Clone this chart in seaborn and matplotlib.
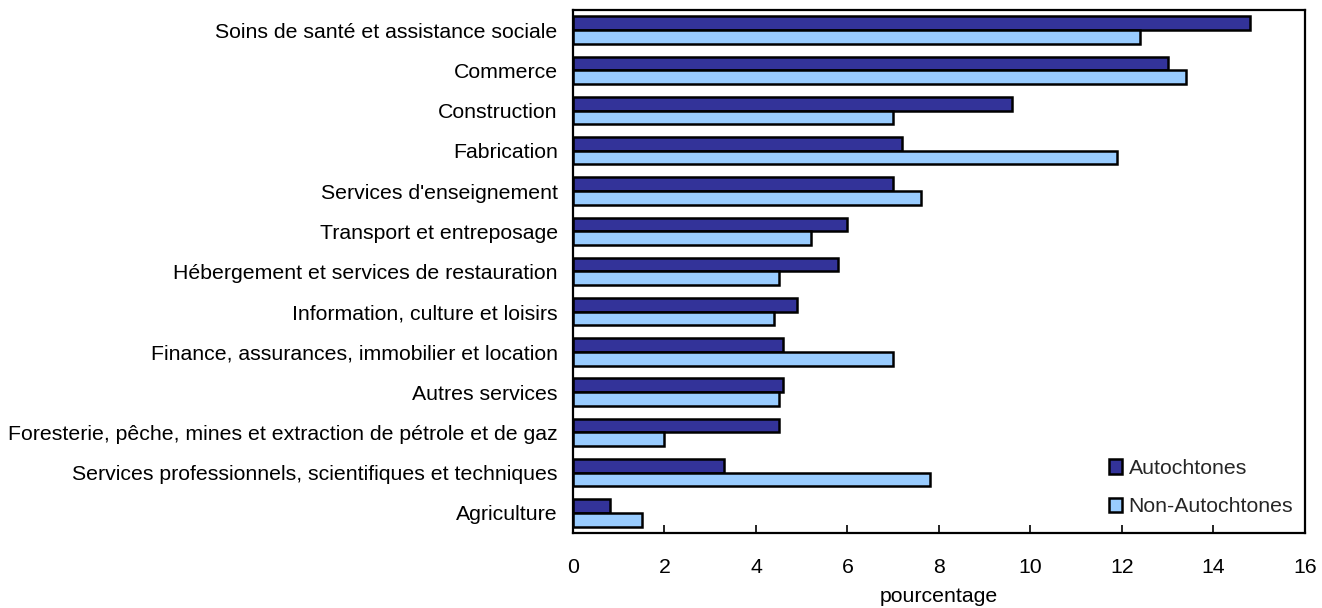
import pandas as pd
import matplotlib
matplotlib.use("Agg")
import matplotlib.pyplot as plt
import seaborn as sns

# Share of employment by industry, in percent
industries = [
    "Soins de santé et assistance sociale",
    "Commerce",
    "Construction",
    "Fabrication",
    "Services d'enseignement",
    "Transport et entreposage",
    "Hébergement et services de restauration",
    "Information, culture et loisirs",
    "Finance, assurances, immobilier et location",
    "Autres services",
    "Foresterie, pêche, mines et extraction de pétrole et de gaz",
    "Services professionnels, scientifiques et techniques",
    "Agriculture",
]
autochtones = [14.8, 13.0, 9.6, 7.2, 7.0, 6.0, 5.8, 4.9, 4.6, 4.6, 4.5, 3.3, 0.8]
non_autochtones = [12.4, 13.4, 7.0, 11.9, 7.6, 5.2, 4.5, 4.4, 7.0, 4.5, 2.0, 7.8, 1.5]
groups = ["Autochtones", "Non-Autochtones"]
x_ticks = [0, 2, 4, 6, 8, 10, 12, 14, 16]

df = pd.DataFrame({
    "industrie": industries * 2,
    "groupe": [groups[0]] * len(industries) + [groups[1]] * len(industries),
    "pct": autochtones + non_autochtones,
})

sns.set_style("white")
plt.rcParams["font.family"] = ["Liberation Sans", "DejaVu Sans"]
fs = 15.3

fig = plt.figure(figsize=(13.22, 6.08), dpi=100)
ax = fig.add_axes([0.4334, 0.1234, 0.9871 - 0.4334, 0.9836 - 0.1234])

sns.barplot(data=df, y="industrie", x="pct", hue="groupe", orient="h",
            order=industries, hue_order=groups,
            palette=["#333399", "#99ccff"], saturation=1, width=0.68,
            edgecolor="black", linewidth=1.8, ax=ax)

ax.set_xlim(0, 16)
ax.set_xticks(x_ticks)
ax.set_xticklabels([str(t) for t in x_ticks], fontsize=fs)
ax.set_ylim(len(industries) - 0.5, -0.5)
ax.tick_params(axis="y", length=0, labelsize=fs, pad=11, colors="black")
ax.tick_params(axis="x", direction="in", length=6, width=1.2, pad=18,
               bottom=True, colors="black")
ax.set_ylabel("")
ax.set_xlabel("pourcentage", fontsize=fs, labelpad=7, color="black")

for side in ax.spines.values():
    side.set_visible(True)
    side.set_color("black")
    side.set_linewidth(1.6)

leg = ax.legend(loc="lower right", bbox_to_anchor=(1.01, -0.005), frameon=False,
                fontsize=fs, handlelength=0.6, handleheight=0.7,
                handletextpad=0.3, labelspacing=0.9)

plt.savefig("out.png", dpi=100)
